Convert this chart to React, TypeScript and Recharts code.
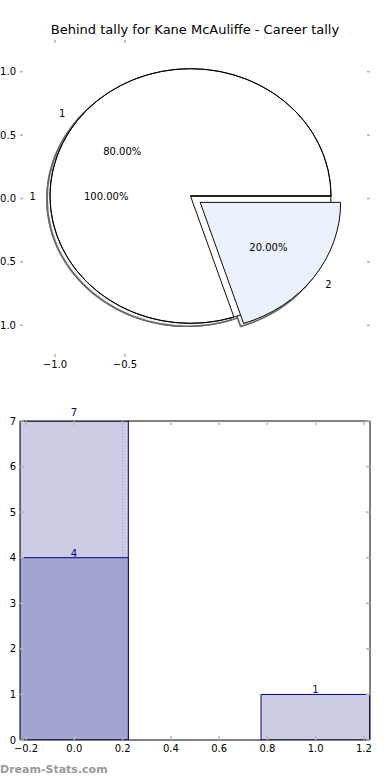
import React from 'react';
import { ComposedChart, PieChart, Pie, Cell, Bar, XAxis, YAxis, LabelList, ReferenceLine } from 'recharts';

const pieTitle = 'Behind tally for Kane McAuliffe - Career tally';
const outerSlices = [{ name: '1', value: 7 }];
const innerSlices = [
  { name: '1', value: 4 },
  { name: '2', value: 1 },
];
const innerColors = ['#ffffff', '#eaf0fc'];
const explodeFrac = [0, 0.085];
const pieXTicks = [-1.0, -0.5];
const pieYTicks = [-1.0, -0.5, 0.0, 0.5, 1.0];
const pieAxisOrigin = [{ x: 0, y: 0 }];

const barXs = [0, 1];
const totalTally = [7, 1];
const behindTally = [4, 0];
const barXTicks = [-0.2, 0.0, 0.2, 0.4, 0.6, 0.8, 1.0, 1.2];
const barYTicks = [0, 1, 2, 3, 4, 5, 6, 7];
const markerX = 0.2;

const barRows = barXs.map((x, i) => ({ x, total: totalTally[i], behind: behindTally[i] }));

// pie geometry (matplotlib axes are not square, so the pie is an ellipse)
const RAD = Math.PI / 180;
const CX = 190.5;
const CY = 196;
const R = 140.5;
const SY = 0.906;
const SH = 3;
const BAR_W = 108.7;

const innerTotal = innerSlices.reduce((s, d) => s + d.value, 0);
let acc = 0;
const explode = innerSlices.map((d, i) => {
  const mid = (360 * (acc + d.value / 2)) / innerTotal;
  acc += d.value;
  const k = explodeFrac[i] * R;
  return { dx: k * Math.cos(mid * RAD), dy: -k * Math.sin(mid * RAD) };
});

const minus = (v: number, digits: number) =>
  (v < 0 ? '\u2212' : '') + Math.abs(v).toFixed(digits);

const unsquash = (y: number) => `translate(0 ${y}) scale(1 ${1 / SY}) translate(0 ${-y})`;

const pieLabel = (show: number[]) => (p: any) => {
  if (!show.includes(p.index)) return <g key={`n${p.index}`} />;
  const a = -p.midAngle * RAD;
  const cos = Math.cos(a);
  const sin = Math.sin(a);
  const ox = p.cx + p.outerRadius * 1.1 * cos;
  const oy = p.cy + p.outerRadius * 1.1 * sin;
  const ix = p.cx + p.outerRadius * 0.6 * cos;
  const iy = p.cy + p.outerRadius * 0.6 * sin;
  const anchor = cos < -0.01 ? 'end' : cos > 0.01 ? 'start' : 'middle';
  return (
    <g key={`l${p.index}`}>
      <text x={ox} y={oy} textAnchor={anchor} dominantBaseline="central" fontSize={10} fill="#000" transform={unsquash(oy)}>
        {p.name}
      </text>
      <text x={ix} y={iy} textAnchor="middle" dominantBaseline="central" fontSize={10} fill="#000" transform={unsquash(iy)}>
        {(p.percent * 100).toFixed(2)}%
      </text>
    </g>
  );
};

const barLabel = (p: any) => {
  const { x, y, width, value } = p;
  if (!value) return <g />;
  const lift = value >= barYTicks[barYTicks.length - 1] ? 5 : 1;
  return (
    <text x={x + width / 2} y={y - lift} textAnchor="middle" fill="#00008b" fontSize={10}>
      {value}
    </text>
  );
};

const tickLine = { stroke: '#b3b3b3', strokeWidth: 1.5 };
const tickFont = { fontSize: 10, fill: '#000' };
const noText = () => '';
const shadowFill = '#f4f4f4';
const shadowEdge = '#6a6a6a';

export default function App() {
  return (
    <div style={{ position: 'absolute', left: 0, top: 0, width: 390, height: 780, fontFamily: 'DejaVu Sans', background: '#fff', overflow: 'hidden' }}>
      <div style={{ position: 'absolute', top: 22, left: 0, width: 390, textAlign: 'center', fontSize: 13, lineHeight: '16px' }}>
        {pieTitle}
      </div>

      <div style={{ position: 'absolute', top: 0, left: 0 }}>
        <ComposedChart width={390} height={380} data={pieAxisOrigin} margin={{ top: 30, right: 0, bottom: 3, left: 0 }}>
          <XAxis xAxisId="b" type="number" dataKey="x" domain={[-1.25, 1.25]} allowDataOverflow ticks={pieXTicks} interval={0}
            height={20} axisLine={false} tickLine={tickLine} tickSize={-3} tickMargin={7} tick={tickFont}
            tickFormatter={(v) => minus(v, 1)} />
          <XAxis xAxisId="t" orientation="top" type="number" dataKey="x" domain={[-1.25, 1.25]} allowDataOverflow ticks={pieXTicks} interval={0}
            height={10} axisLine={false} tickLine={tickLine} tickSize={-3} tickFormatter={noText} />
          <YAxis yAxisId="l" type="number" dataKey="y" domain={[-1.25, 1.25]} allowDataOverflow ticks={pieYTicks} interval={0}
            width={20} axisLine={false} tickLine={tickLine} tickSize={-3} tickMargin={7} tick={tickFont}
            tickFormatter={(v) => minus(v, 1)} />
          <YAxis yAxisId="r" orientation="right" type="number" dataKey="y" domain={[-1.25, 1.25]} allowDataOverflow ticks={pieYTicks} interval={0}
            width={20} axisLine={false} tickLine={tickLine} tickSize={-3} tickFormatter={noText} />
        </ComposedChart>
      </div>

      <div style={{ position: 'absolute', top: 0, left: 0, transform: `scaleY(${SY})`, transformOrigin: `${CX}px ${CY}px` }}>
        <PieChart width={390} height={380} margin={{ top: 0, right: 0, bottom: 0, left: 0 }}>
          {/* shadows */}
          <Pie data={outerSlices} dataKey="value" cx={CX - SH} cy={CY + SH / SY} outerRadius={R} startAngle={0} endAngle={360}
            isAnimationActive={false} label={false} labelLine={false} fill={shadowFill} stroke={shadowEdge} strokeWidth={1.8} />
          {innerSlices.map((_, k) => (
            <Pie key={`s${k}`} data={innerSlices} dataKey="value" cx={CX + explode[k].dx - SH} cy={CY + explode[k].dy + SH / SY}
              outerRadius={R} startAngle={0} endAngle={360} isAnimationActive={false} label={false} labelLine={false}>
              {innerSlices.map((d, i) => (
                <Cell key={d.name + i} fill={i === k ? shadowFill : 'none'} stroke={i === k ? shadowEdge : 'none'} strokeWidth={1.8} />
              ))}
            </Pie>
          ))}
          {/* full pie */}
          <Pie data={outerSlices} dataKey="value" cx={CX} cy={CY} outerRadius={R} startAngle={0} endAngle={360}
            isAnimationActive={false} labelLine={false} label={pieLabel([0])} fill="#ffffff" stroke="#000" strokeWidth={1} />
          {/* split pie, the second slice exploded */}
          {innerSlices.map((_, k) => (
            <Pie key={`p${k}`} data={innerSlices} dataKey="value" cx={CX + explode[k].dx} cy={CY + explode[k].dy}
              outerRadius={R} startAngle={0} endAngle={360} isAnimationActive={false} labelLine={false} label={pieLabel([k])}>
              {innerSlices.map((d, i) => (
                <Cell key={d.name + i} fill={i === k && k > 0 ? innerColors[i] : 'none'} stroke={i === k ? '#000' : 'none'} strokeWidth={1} />
              ))}
            </Pie>
          ))}
        </PieChart>
      </div>

      <div style={{ position: 'absolute', top: 400, left: 0 }}>
        <ComposedChart width={390} height={360} data={barRows} margin={{ top: 11, right: 0, bottom: 0, left: 0 }}
          barGap={-BAR_W} barCategoryGap={0}>
          <XAxis xAxisId="v" type="number" dataKey="x" domain={[-0.225, 1.225]} allowDataOverflow ticks={barXTicks} interval={0}
            height={20} axisLine={{ stroke: '#000' }} tickLine={tickLine} tickSize={-4} tickMargin={9} tick={tickFont}
            tickFormatter={(v) => minus(v, 1)} />
          <XAxis xAxisId="vt" orientation="top" type="number" dataKey="x" domain={[-0.225, 1.225]} allowDataOverflow ticks={barXTicks} interval={0}
            height={10} axisLine={{ stroke: '#000' }} tickLine={tickLine} tickSize={-4} tickFormatter={noText} />
          <YAxis yAxisId="l" type="number" domain={[0, 7]} allowDataOverflow ticks={barYTicks} interval={0}
            width={20} axisLine={{ stroke: '#000' }} tickLine={tickLine} tickSize={-4} tickMargin={8} tick={tickFont} />
          <YAxis yAxisId="r" orientation="right" type="number" domain={[0, 7]} allowDataOverflow ticks={barYTicks} interval={0}
            width={20} axisLine={{ stroke: '#000' }} tickLine={tickLine} tickSize={-4} tickFormatter={noText} />
          <Bar xAxisId="v" yAxisId="l" dataKey="total" barSize={BAR_W} fill="#cccce5" stroke="#00008b" strokeWidth={1} isAnimationActive={false}>
            <LabelList dataKey="total" content={barLabel} />
          </Bar>
          <Bar xAxisId="v" yAxisId="l" dataKey="behind" barSize={BAR_W} fill="#a3a5d1" stroke="#00008b" strokeWidth={1} isAnimationActive={false}>
            <LabelList dataKey="behind" content={barLabel} />
          </Bar>
          <ReferenceLine xAxisId="v" yAxisId="l" x={markerX} stroke="#999" strokeDasharray="1 2" />
        </ComposedChart>
      </div>

      <div style={{ position: 'absolute', top: 763, left: 0, zIndex: 5, fontSize: 11, fontWeight: 'bold', color: '#999', lineHeight: '14px', whiteSpace: 'nowrap' }}>
        Dream-Stats.com
      </div>
    </div>
  );
}
